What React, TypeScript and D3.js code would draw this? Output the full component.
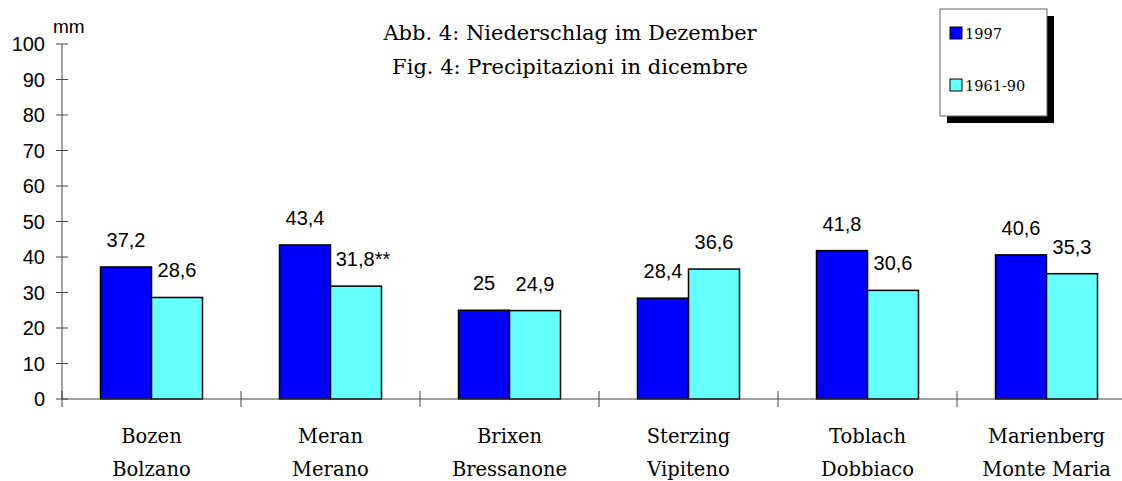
import React from 'react'
import * as d3 from 'd3'

const stationsDe = ['Bozen', 'Meran', 'Brixen', 'Sterzing', 'Toblach', 'Marienberg']
const stationsIt = ['Bolzano', 'Merano', 'Bressanone', 'Vipiteno', 'Dobbiaco', 'Monte Maria']
const values1997 = [37.2, 43.4, 25, 28.4, 41.8, 40.6]
const values6190 = [28.6, 31.8, 24.9, 36.6, 30.6, 35.3]
const labels1997 = ['37,2', '43,4', '25', '28,4', '41,8', '40,6']
const labels6190 = ['28,6', '31,8**', '24,9', '36,6', '30,6', '35,3']
const yTicks = [0, 10, 20, 30, 40, 50, 60, 70, 80, 90, 100]
const seriesNames = ['1997', '1961-90']
const colors = ['#0000ff', '#66ffff']

export default function App() {
  const W = 1122, H = 481
  const x = d3.scaleBand().domain(stationsDe).range([62, 62 + 179 * 6])
  const y = d3.scaleLinear().domain([0, 100]).range([399, 44])
  const barW = 51
  const sans = '"Liberation Sans", Arial, sans-serif'
  const serif = '"DejaVu Serif", serif'

  const bounds = d3.range(7).map(i => 62 + i * x.bandwidth())

  return (
    <svg width={W} height={H} style={{ position: 'absolute', left: 0, top: 0, background: '#fff' }}>
      {/* title */}
      <text x={570} y={40} textAnchor="middle" fontFamily={serif} fontSize={21}>Abb. 4: Niederschlag im Dezember</text>
      <text x={570} y={74} textAnchor="middle" fontFamily={serif} fontSize={21}>Fig. 4: Precipitazioni in dicembre</text>
      <text x={53} y={33} fontFamily={sans} fontSize={19}>mm</text>

      {/* y axis */}
      <line x1={62} x2={62} y1={y(100)} y2={y(0)} stroke="#444" />
      {yTicks.map(t => (
        <g key={t}>
          <line x1={56} x2={68} y1={y(t)} y2={y(t)} stroke="#444" />
          <text x={45} y={y(t) + 7} textAnchor="end" fontFamily={sans} fontSize={20}>{t}</text>
        </g>
      ))}

      {/* bars */}
      {stationsDe.map((s, i) => {
        const cx = (x(s) as number) + x.bandwidth() / 2
        return (
          <g key={s}>
            <rect x={cx - barW} y={y(values1997[i])} width={barW} height={y(0) - y(values1997[i])}
              fill={colors[0]} stroke="#000" strokeWidth={1.5} />
            <rect x={cx} y={y(values6190[i])} width={barW} height={y(0) - y(values6190[i])}
              fill={colors[1]} stroke="#000" strokeWidth={1.5} />
            <text x={cx - barW / 2} y={y(values1997[i]) - 20} textAnchor="middle" fontFamily={sans} fontSize={20}>{labels1997[i]}</text>
            <text x={cx + barW / 2 + (labels6190[i].length > 4 ? 7 : 0)} y={y(values6190[i]) - 20} textAnchor="middle" fontFamily={sans} fontSize={20}>{labels6190[i]}</text>
            <text x={cx} y={443} textAnchor="middle" fontFamily={serif} fontSize={19.5}>{s}</text>
            <text x={cx} y={476} textAnchor="middle" fontFamily={serif} fontSize={19.5}>{stationsIt[i]}</text>
          </g>
        )
      })}

      {/* x axis */}
      <line x1={62} x2={bounds[6]} y1={y(0)} y2={y(0)} stroke="#444" />
      {bounds.map((b, i) => (
        <line key={i} x1={b} x2={b} y1={391} y2={407} stroke="#444" />
      ))}

      {/* legend */}
      <rect x={947} y={16} width={107} height={107} fill="#000" />
      <rect x={940} y={9} width={107} height={107} fill="#fff" stroke="#666" />
      {seriesNames.map((n, i) => (
        <g key={n}>
          <rect x={950} y={27 + i * 52} width={12} height={12} fill={colors[i]} stroke="#000" />
          <text x={965} y={39 + i * 52} fontFamily={serif} fontSize={14.5}>{n}</text>
        </g>
      ))}
    </svg>
  )
}
